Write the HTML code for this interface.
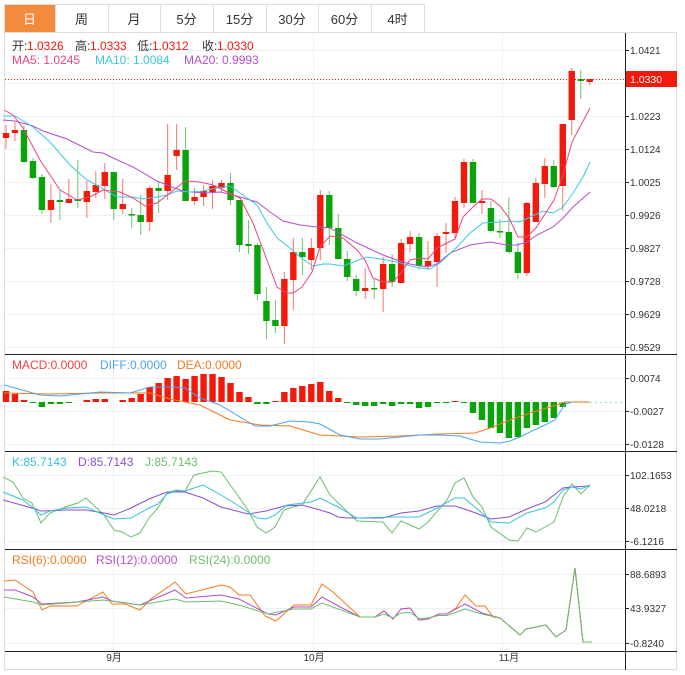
<!DOCTYPE html>
<html><head><meta charset="utf-8"><style>
body{margin:0;background:#fff;width:685px;height:675px;overflow:hidden;font-family:"Liberation Sans","Noto Sans CJK SC",sans-serif}
svg{position:absolute;left:0;top:0}
</style></head><body>
<svg id="s" width="685" height="675" xmlns="http://www.w3.org/2000/svg" font-family="Liberation Sans, Noto Sans CJK SC, sans-serif"></svg>
<script>
const s=document.getElementById('s');let h='';
const tabs=[['日',4,55],['周',55,108],['月',108,160],['5分',160,213],['15分',213,266],['30分',266,318],['60分',318,371],['4时',371,424]];
h+='<rect x="0" y="0" width="685" height="675" fill="#fff"/>';
h+='<line x1="4" y1="4.5" x2="424" y2="4.5" stroke="#ddd"/>';
tabs.forEach((t,i)=>{h+=`<rect x="${t[1]+.5}" y="4.5" width="${t[2]-t[1]}" height="28" fill="${i?'#fff':'#f28b3c'}" stroke="#ddd"/>`;
h+=`<text x="${(t[1]+t[2])/2}" y="24" font-size="13" text-anchor="middle" fill="${i?'#333':'#fff'}">${t[0]}</text>`;});
h+='<rect x="4.5" y="32.5" width="672" height="637" fill="none" stroke="#ddd"/>';
const g='#edf1f3';
[50,83,116,149,182,215,248,281,314,347,378,411,444,475,508,541,574,608,643].forEach(y=>h+=`<line x1="5" y1="${y+.5}" x2="625" y2="${y+.5}" stroke="${g}"/>`);
[113,313,502].forEach(x=>h+=`<line x1="${x+.5}" y1="33" x2="${x+.5}" y2="651" stroke="${g}"/>`);
[354,451,549,651].forEach(y=>h+=`<line x1="5" y1="${y+.5}" x2="677" y2="${y+.5}" stroke="#222"/>`);
h+='<line x1="625.5" y1="33" x2="625.5" y2="670" stroke="#222"/>';
const ax=[['1.0421',50],['1.0223',116],['1.0124',149],['1.0025',182],['0.9926',215],['0.9827',248],['0.9728',281],['0.9629',314],['0.9529',347],['0.0074',378],['-0.0027',411],['-0.0128',444],['102.1653',475],['48.0218',508],['-6.1216',541],['88.6893',574],['43.9327',608],['-0.8240',643]];
ax.forEach(a=>{h+=`<line x1="625" y1="${a[1]+.5}" x2="629" y2="${a[1]+.5}" stroke="#222"/><text x="630" y="${a[1]+4}" font-size="10" fill="#333">${a[0]}</text>`});
[['9月',114],['10月',314],['11月',509]].forEach(a=>h+=`<text x="${a[1]}" y="661" font-size="10" text-anchor="middle" fill="#333">${a[0]}</text>`);
const C=[['r',133,138,125,149],['r',130,133,122,141],['g',130,162,126,163],['g',161,178,158,179],['g',177,210,174,214],['r',200,210,184,223],['g',200,202,190,220],['r',199,203,179,203],['g',199,201,160,208],['r',191,202,181,218],['r',185,192,171,198],['r',172,186,163,199],['g',172,209,172,220],['r',204,209,179,214],['g',214,215,208,228],['g',215,222,195,235],['r',188,222,186,231],['g',188,191,181,213],['r',175,191,124,200],['r',150,156,124,170],['g',150,201,127,201],['r',197,201,188,205],['r',191,197,185,206],['r',186,192,180,209],['r',183,188,180,193],['g',183,200,173,205],['g',200,245,200,252],['g',244,246,220,254],['g',245,294,243,300],['g',301,321,287,339],['g',320,326,300,333],['r',279,326,272,344],['r',252,280,238,310],['g',252,257,238,275],['r',248,260,238,270],['r',195,248,190,260],['g',195,228,191,245],['g',228,259,214,260],['g',259,277,251,281],['g',279,291,275,296],['r',288,291,268,299],['g',288,289,278,299],['r',264,289,257,312],['g',264,282,254,287],['r',243,283,239,283],['r',237,244,231,252],['g',237,266,233,270],['r',261,266,241,270],['r',236,262,233,287],['r',232,234,223,253],['r',201,233,197,238],['r',162,203,159,208],['g',162,203,159,203],['r',201,203,190,214],['g',208,231,201,232],['g',231,232,219,238],['g',232,252,197,254],['g',252,273,243,279],['r',203,273,202,276],['r',183,222,178,222],['r',166,184,158,198],['g',166,187,160,188],['r',124,186,124,211],['r',71,120,68,135],['g',79,81,70,99],['r',79,82,79,85]];
const X=i=>6+8.98*i;
const R='#f21a0a',G='#0aa40a';
C.forEach((c,i)=>{const x=X(i),col=c[0]=='r'?R:G;
h+=`<line x1="${x}" y1="${c[3]}" x2="${x}" y2="${c[4]}" stroke="${col}" opacity=".6"/>`;
h+=`<rect x="${x-3.2}" y="${c[1]}" width="6.4" height="${Math.max(1.5,c[2]-c[1])}" fill="${col}"/>`;});
function pl(pts,col,w){return `<polyline points="${pts.map(p=>p.join(',')).join(' ')}" fill="none" stroke="${col}" stroke-width="${w||1}"/>`}
const MA5=[[4,110],[13,115],[23,128],[40,160],[60,190],[77,200],[90,197],[103,190],[120,192],[133,198],[145,206],[157,203],[170,193],[185,181],[200,182],[213,185],[227,192],[240,198],[253,223],[267,260],[277,287],[287,293],[293,293],[302,287],[312,272],[320,247],[330,236],[343,238],[357,250],[365,260],[373,278],[383,282],[393,282],[401,273],[410,260],[420,258],[428,259],[437,248],[447,243],[455,239],[463,217],[473,207],[482,199],[491,199],[500,206],[509,218],[518,237],[527,237],[536,228],[545,214],[554,200],[563,175],[572,142],[581,125],[590,108]];
const MA10=[[3,116],[15,116],[33,127],[50,142],[70,165],[87,180],[100,187],[117,197],[133,197],[143,199],[157,197],[167,195],[177,191],[190,192],[203,191],[217,188],[230,186],[240,193],[257,205],[267,223],[277,238],[290,248],[300,257],[313,266],[323,264],[330,264],[343,266],[367,257],[380,259],[397,262],[407,265],[420,268],[430,269],[440,263],[457,247],[470,233],[483,223],[500,222],[510,221],[520,222],[530,217],[543,211],[553,213],[563,207],[573,193],[583,177],[590,162]];
const MA20=[[3,120],[15,121],[33,126],[43,131],[67,139],[93,152],[103,153],[113,158],[133,167],[157,181],[167,185],[180,190],[190,192],[207,193],[220,192],[233,195],[257,202],[270,212],[283,221],[300,225],[317,227],[330,228],[357,243],[383,255],[397,260],[410,264],[427,267],[437,264],[450,253],[470,245],[490,242],[507,245],[517,245],[527,242],[537,235],[553,227],[563,218],[573,207],[590,192]];
h+=pl(MA20,'#b44fc7')+pl(MA10,'#3cc8e0')+pl(MA5,'#f0437a');
h+='<line x1="5" y1="79.5" x2="625" y2="79.5" stroke="#f21a0a" stroke-dasharray="1,2" stroke-width="1"/>';
h+='<rect x="626" y="71" width="51" height="16" fill="#f21a0a"/><text x="630" y="83" font-size="10.5" fill="#fff">1.0330</text>';
const H=[391,394,400,403,407,404,404,403,402,400,399,399,402,400,398,394,387,383,378,376,379,376,374,374,377,383,392,397,404,404,401,392,388,386,384,382,391,398,403,405,406,406,404,406,404,404,408,407,403,403,401,403,413,420,428,433,438,437,428,425,422,418,407,402,402,402];
H.forEach((y,i)=>{const x=X(i);if(Math.abs(y-402)<1)return;const up=y<402;h+=`<rect x="${x-3.2}" y="${up?y:402}" width="6.4" height="${Math.abs(y-402)}" fill="${up?R:G}"/>`});
h+='<line x1="560" y1="402.5" x2="625" y2="402.5" stroke="#9dd" stroke-dasharray="2,3"/>';
const DIF=[[4,385],[40,395],[60,396],[100,392],[130,393],[150,387],[170,387],[185,388],[200,398],[220,405],[240,417],[255,426],[270,426],[290,421],[310,422],[320,424],[340,435],[360,439],[380,439],[400,437],[420,435],[440,435],[460,436],[480,442],[500,443],[510,441],[520,437],[530,432],[545,425],[555,420],[565,404],[572,402]];
const DEA=[[4,393],[50,394],[100,393],[150,393],[170,399],[200,405],[230,420],[260,425],[290,426],[320,435],[360,437],[400,436],[440,434],[475,433],[490,428],[510,420],[530,413],[550,407],[565,402],[590,402]];
h+=pl(DEA,'#f57a1e')+pl(DIF,'#4ea3f0');
const K=[[3,492],[23,500],[32,507],[41,515],[50,511],[67,508],[86,507],[104,515],[114,519],[131,518],[149,508],[158,504],[167,494],[176,491],[185,491],[203,485],[221,495],[239,506],[257,518],[266,519],[275,515],[287,505],[311,502],[320,498],[338,507],[357,518],[392,517],[419,517],[437,508],[455,498],[464,498],[482,513],[491,522],[509,523],[527,513],[545,508],[554,502],[563,490],[572,487],[581,489],[590,485]];
const D=[[3,500],[32,508],[41,511],[67,510],[86,510],[104,513],[114,515],[131,508],[149,499],[167,492],[185,492],[203,498],[221,507],[248,514],[266,511],[284,506],[302,505],[320,510],[330,513],[338,517],[347,518],[383,518],[401,513],[419,511],[437,506],[455,506],[473,512],[491,519],[509,517],[527,509],[545,502],[563,488],[572,487],[590,486]];
const J=[[3,477],[13,482],[23,498],[32,503],[41,523],[50,513],[68,506],[78,503],[86,498],[104,515],[114,530],[122,532],[131,537],[140,533],[149,518],[158,508],[167,493],[176,490],[185,491],[194,475],[212,471],[221,472],[248,510],[257,527],[266,533],[275,527],[284,510],[293,507],[302,505],[320,477],[330,495],[357,521],[383,522],[392,533],[401,521],[419,529],[428,522],[447,500],[455,483],[464,478],[473,497],[482,507],[491,527],[509,540],[518,541],[527,528],[536,532],[554,522],[563,497],[572,484],[581,494],[590,485]];
h+=pl(J,'#6cbf6c')+pl(D,'#8a4fd0')+pl(K,'#33c3dc');
const R6=[[4,581],[15,580],[33,592],[42,610],[50,606],[77,606],[86,601],[103,592],[112,604],[125,604],[140,610],[151,599],[175,582],[186,594],[221,585],[230,587],[239,595],[250,595],[265,616],[276,621],[294,605],[311,605],[322,584],[333,592],[360,617],[375,617],[384,611],[393,619],[401,609],[410,608],[419,620],[428,619],[439,614],[447,614],[456,608],[465,595],[476,606],[485,606],[493,617],[500,618],[520,635],[526,629],[546,625],[556,637],[566,630],[575,568],[583,642],[592,642]];
const tail=R6.filter(p=>p[0]>=500);
const mid=R6.filter(p=>p[0]>=375&&p[0]<=447);
const R12=[[4,590],[15,590],[33,597],[42,604],[77,602],[103,597],[112,601],[140,605],[175,590],[186,598],[221,595],[239,599],[268,614],[276,615],[294,607],[311,607],[322,597],[342,608],[360,617]].concat(mid,[[465,604],[482,613]],tail);
const R24=[[4,597],[33,602],[42,605],[103,600],[140,605],[175,599],[186,602],[221,601],[239,605],[268,614],[294,609],[311,609],[322,603],[360,617]].concat(mid.map(p=>[p[0],(p[1]+617)/2]),[[465,609],[482,614]],tail);
h+=pl(R6,'#f57a1e')+pl(R12,'#b44fc7')+pl(R24,'#6cbf6c');
function T(x,y,t,c){return `<text x="${x}" y="${y}" font-size="12" fill="${c}">${t}</text>`}
h+=T(12,50,'开:','#333')+T(27,50,'1.0326','#f21a0a')+T(75,50,'高:','#333')+T(90,50,'1.0333','#f21a0a')+T(137,50,'低:','#333')+T(152,50,'1.0312','#f21a0a')+T(202,50,'收:','#333')+T(217,50,'1.0330','#f21a0a');
h+=T(12,64,'MA5: 1.0245','#f0437a')+T(95,64,'MA10: 1.0084','#3cc8e0')+T(184,64,'MA20: 0.9993','#b44fc7');
h+=T(12,369,'MACD:0.0000','#f04040')+T(100,369,'DIFF:0.0000','#4ea3f0')+T(177,369,'DEA:0.0000','#f57a1e');
h+=T(12,466,'K:85.7143','#33c3dc')+T(78,466,'D:85.7143','#8a4fd0')+T(145,466,'J:85.7143','#6cbf6c');
h+=T(12,564,'RSI(6):0.0000','#f57a1e')+T(96,564,'RSI(12):0.0000','#b44fc7')+T(189,564,'RSI(24):0.0000','#6cbf6c');
s.innerHTML=h;
</script>
</body></html>
